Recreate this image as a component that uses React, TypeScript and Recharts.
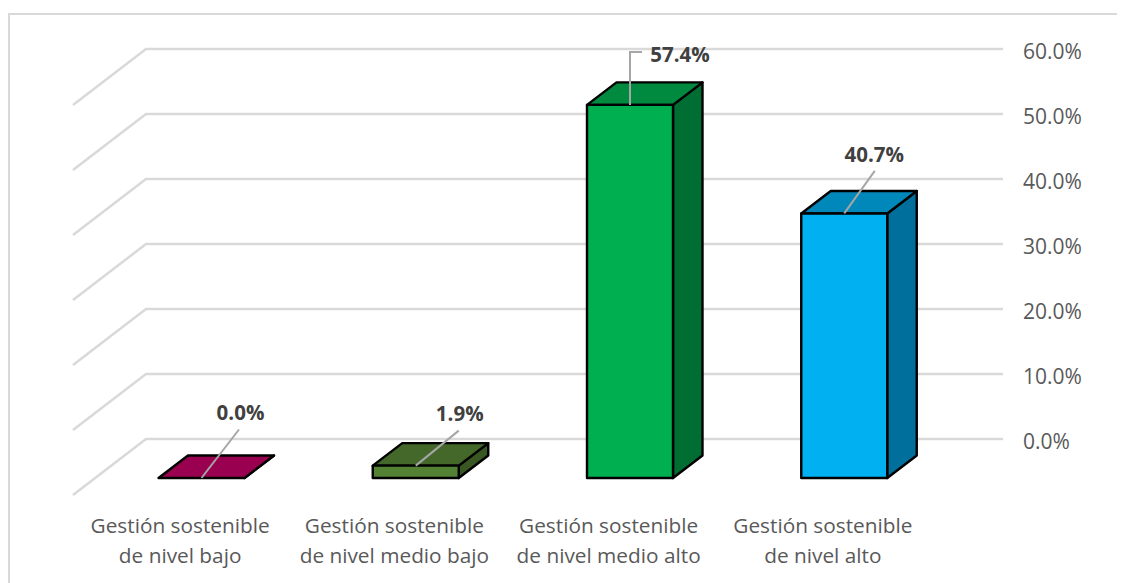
import { Bar, BarChart, CartesianGrid, LabelList, XAxis, YAxis } from "recharts";

const categories = [
  "Gestión sostenible de nivel bajo",
  "Gestión sostenible de nivel medio bajo",
  "Gestión sostenible de nivel medio alto",
  "Gestión sostenible de nivel alto",
];
const percents = [0.0, 1.9, 57.4, 40.7];
const yTicks = [0, 10, 20, 30, 40, 50, 60];

const frontColors = ["#99004f", "#548235", "#00b050", "#00b0f0"];
const topColors = ["#99004f", "#43682a", "#008a3f", "#0088bb"];
const sideColors = ["#7a003f", "#385723", "#006d32", "#006f9b"];

// where each moved data label sits, relative to the top centre of the bar front
const labelOffsets = [
  [39, -66],
  [44, -53],
  [50, -51],
  [30, -59.5],
];
const leaderPoints = [
  [[37.5, -48.5]],
  [[43, -35]],
  [[0, -53], [12, -53]],
  [[30.5, -42.5]],
];

const data = categories.map((name, i) => ({ name, value: percents[i] }));

const FONT = "'Open Sans', sans-serif";
const GRID = "#d9d9d9";
// the floor runs this far towards the viewer
const FLOOR_DX = 73;
const FLOOR_DY = 56;
// bar fronts sit part of the way along the floor
const FRONT_DX = 51.5;
const FRONT_DY = 39;
// depth of the bars themselves
const DEPTH_DX = 29.5;
const DEPTH_DY = 22.5;

function GridLine(props: any) {
  const { x1, x2, y1 } = props;
  return (
    <polyline
      key={props.key}
      points={`${x1 - FLOOR_DX},${y1 + FLOOR_DY} ${x1},${y1} ${x2},${y1}`}
      fill="none"
      stroke={GRID}
      strokeWidth={2.5}
    />
  );
}

function Box3D(props: any) {
  const { x, y, width, height, index } = props;
  const l = x - FRONT_DX;
  const r = l + width;
  const t = y + FRONT_DY;
  const b = t + height;
  const common = { stroke: "#000", strokeWidth: 2.4, strokeLinejoin: "round" as const };
  return (
    <g>
      <polygon
        points={`${r},${t} ${r + DEPTH_DX},${t - DEPTH_DY} ${r + DEPTH_DX},${b - DEPTH_DY} ${r},${b}`}
        fill={sideColors[index]}
        {...common}
      />
      <polygon
        points={`${l},${t} ${l + DEPTH_DX},${t - DEPTH_DY} ${r + DEPTH_DX},${t - DEPTH_DY} ${r},${t}`}
        fill={topColors[index]}
        {...common}
      />
      <rect x={l} y={t} width={width} height={height} fill={frontColors[index]} {...common} />
    </g>
  );
}

function DataLabel(props: any) {
  const { x, y, width, value, index } = props;
  const cx = x - FRONT_DX + width / 2;
  const cy = y + FRONT_DY;
  const pts = [[0, 0], ...leaderPoints[index]].map(([dx, dy]) => `${cx + dx},${cy + dy}`).join(" ");
  const [tx, ty] = labelOffsets[index];
  return (
    <g>
      <polyline points={pts} fill="none" stroke="#a6a6a6" strokeWidth={2} />
      <text
        x={cx + tx}
        y={cy + ty}
        textAnchor="middle"
        dominantBaseline="central"
        fontFamily={FONT}
        fontSize={20.5}
        fontWeight={700}
        fill="#404040"
      >
        {`${Number(value).toFixed(1)}%`}
      </text>
    </g>
  );
}

function CategoryTick(props: any) {
  const { x, payload } = props;
  const cut = payload.value.indexOf(" de ");
  const lines = [payload.value.slice(0, cut), payload.value.slice(cut + 1)];
  return (
    <text x={x - FLOOR_DX} textAnchor="middle" fontFamily={FONT} fontSize={20.8} fill="#595959">
      {lines.map((line: string, i: number) => (
        <tspan key={i} x={x - FLOOR_DX} y={525 + i * 30}>
          {line}
        </tspan>
      ))}
    </text>
  );
}

export default function App() {
  return (
    <div style={{ position: "relative", width: 1117, height: 575 }}>
      <style>{"html,body{overflow:hidden}"}</style>
      <div
        style={{
          position: "absolute",
          left: 0,
          top: 5,
          right: 0,
          bottom: 0,
          borderLeft: "2px solid #d9d9d9",
          borderTop: "2px solid #d9d9d9",
          boxSizing: "border-box",
        }}
      />
      <div style={{ position: "absolute", left: 0, top: 0 }}>
        <BarChart
          width={1117}
          height={575}
          data={data}
          margin={{ top: 41, right: 0, bottom: 0, left: 138 }}
        >
          <CartesianGrid vertical={false} horizontal={GridLine} />
          <XAxis
            dataKey="name"
            axisLine={false}
            tickLine={false}
            height={144}
            interval={0}
            tick={CategoryTick}
          />
          <YAxis
            orientation="right"
            width={122}
            domain={[0, 60]}
            ticks={yTicks}
            axisLine={false}
            tickLine={false}
            tickMargin={14}
            tickFormatter={(v: number) => `${v.toFixed(1)}%`}
            tick={{ fontFamily: FONT, fontSize: 21, fill: "#595959", textAnchor: "start", dy: 3 }}
          />
          <Bar dataKey="value" barSize={86} shape={Box3D} isAnimationActive={false}>
            <LabelList dataKey="value" content={DataLabel} />
          </Bar>
        </BarChart>
      </div>
    </div>
  );
}
